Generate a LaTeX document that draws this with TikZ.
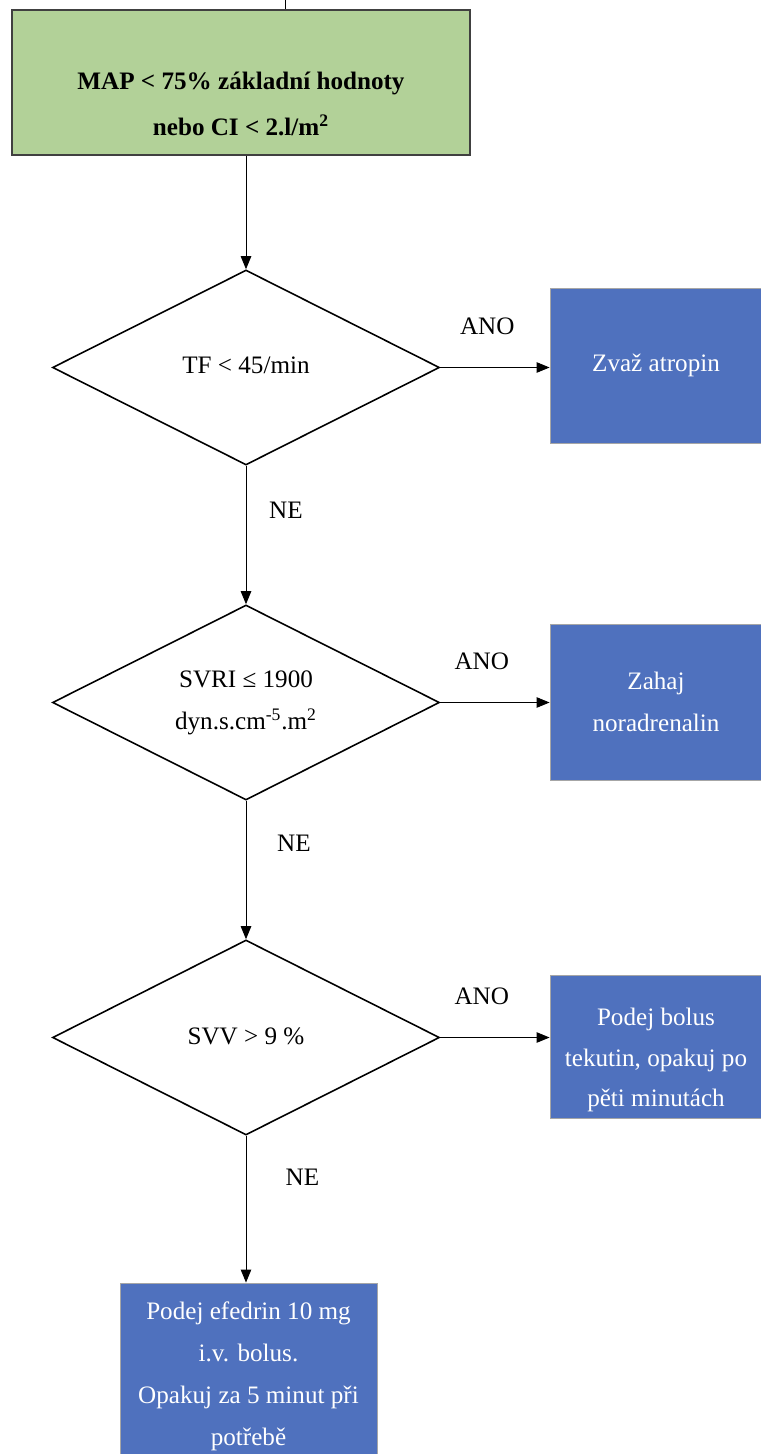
\documentclass[tikz,border=0pt]{standalone}
\usepackage{fontspec}
\setmainfont{Liberation Serif}
\usetikzlibrary{shapes.geometric,arrows.meta}
\definecolor{mapgreen}{RGB}{178,209,152}
\definecolor{stepblue}{RGB}{79,113,190}
\begin{document}
\begin{tikzpicture}[
    every node/.style={font=\fontsize{14.3}{24}\selectfont},
    startbox/.style={draw=black!75, line width=0.6pt, fill=mapgreen,
        minimum width=9.16cm, minimum height=2.9cm, inner sep=0pt},
    decision/.style={draw, diamond, aspect=2, line width=0.9pt, align=center,
        minimum width=7.74cm, minimum height=3.9cm, inner sep=0pt},
    action/.style={draw=black!35, line width=0.5pt, fill=stepblue, text=white,
        align=center, inner sep=0pt, minimum width=4.24cm},
    flow/.style={line width=0.5pt, -{Triangle[length=2.6mm,width=2.1mm]}},
    answer/.style={inner sep=1pt}
    ]
    \useasboundingbox (0,0) rectangle (15.2,-29.08);
    {
    % Start box
    \node [startbox] (start) at (4.82,-1.65) {};%
    \node [font=\fontsize{14.3}{26.5}\selectfont\bfseries, align=center] (startlbl)
        at (4.82,-2.08) {MAP < 75\% základní hodnoty\\nebo CI < 2.l/m\textsuperscript{2}};%
    \coordinate (tick) at (5.70,0);%
    \draw [line width=0.5pt] (tick) -- (tick |- start.north);%

    % Decision nodes
    \node [decision] (hr) at (4.92,-7.35) {\raisebox{0.1cm}{TF < 45/min}};%
    \node [decision] (svri) at (4.92,-14.05) {SVRI ≤ 1900\\dyn.s.cm\textsuperscript{-5}.m\textsuperscript{2}};%
    \node [decision] (svv) at (4.92,-20.75) {\raisebox{0.06cm}{SVV > 9 \%}};%

    % Action boxes
    \node [action, minimum height=3.1cm] (atropin) at (13.12,-7.31) {Zvaž atropin};%
    \node [action, minimum height=3.12cm] (norad) at (13.12,-14.04) {Zahaj\\noradrenalin};%
    \node [action, minimum height=2.86cm] (fluid) at (13.12,-20.93) {};%
    \node [text=white, align=center, font=\fontsize{14.3}{23}\selectfont] (fluidlbl)
        at (13.12,-21.20) {Podej bolus\\tekutin, opakuj po\\pěti minutách};%
    \node [action, minimum width=5.14cm, minimum height=3.74cm] (efedrin) at (4.97,-27.53)
        {Podej efedrin 10 mg\\i.v. bolus.\\Opakuj za 5 minut při\\potřebě};%

    % Drawing connectors down
    \draw [flow] (start.south -| hr.north) -- (hr.north);%
    \draw [flow] (hr.south) -- node [answer, pos=0.32, right=0.42cm] {NE} (svri.north);%
    \draw [flow] (svri.south) -- node [answer, pos=0.31, right=0.58cm] {NE} (svv.north);%
    \draw [flow] (svv.south) -- node [answer, pos=0.28, right=0.75cm] {NE} (efedrin.north -| svv.south);%

    % Drawing connectors right
    \draw [flow] (hr.east) -- node [answer, pos=0.43, above=0.62cm] {ANO} (hr.east -| atropin.west);%
    \draw [flow] (svri.east) -- node [answer, pos=0.38, above=0.62cm] {ANO} (svri.east -| norad.west);%
    \draw [flow] (svv.east) -- node [answer, pos=0.38, above=0.62cm] {ANO} (svv.east -| fluid.west);%
    }
\end{tikzpicture}
\end{document}
